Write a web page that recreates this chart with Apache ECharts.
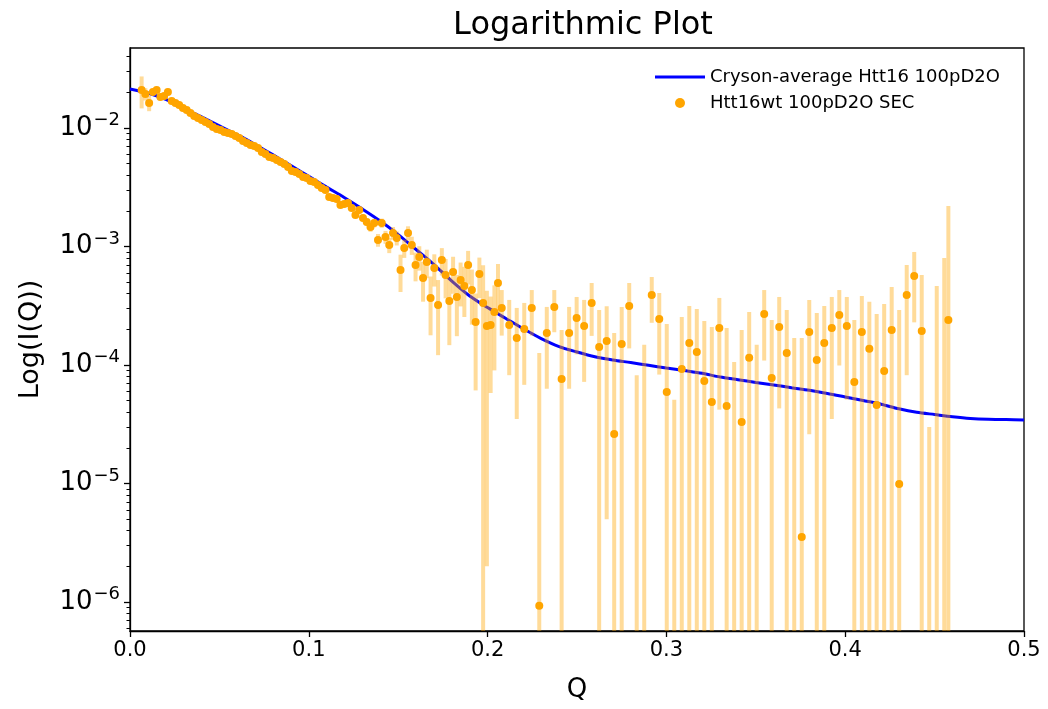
<!DOCTYPE html>
<html>
<head>
<meta charset="utf-8">
<script src="https://cdn.jsdelivr.net/npm/echarts@6/dist/echarts.min.js"></script>
<style>html,body{margin:0;padding:0;background:#fff;}#c{width:1048px;height:709px;}</style>
</head>
<body>
<div id="c"></div>
<script>
// ---- Model curve (Cryson-average) ----
const modelQ = [0.00,0.01,0.02,0.03,0.04,0.05,0.06,0.07,0.08,0.09,0.10,0.11,0.12,0.13,0.14,0.15,0.16,0.17,0.18,0.19,0.20,0.21,0.22,0.23,0.24,0.25,0.26,0.27,0.28,0.29,0.30,0.31,0.32,0.33,0.34,0.35,0.36,0.37,0.38,0.39,0.40,0.41,0.42,0.43,0.44,0.45,0.46,0.47,0.48,0.49,0.50];
const modelI = [0.02134,0.01973,0.01740,0.01470,0.01240,0.01043,0.00878,0.00726,0.00593,0.00482,0.00391,0.00317,0.00258,0.00207,0.001640,0.001260,0.000943,0.000704,0.000510,0.000382,0.000305,0.000248,0.000202,0.000167,0.000143,0.0001288,0.0001175,0.0001102,0.0001048,0.0000994,0.0000943,0.0000897,0.0000851,0.0000792,0.0000752,0.0000713,0.0000678,0.0000643,0.0000611,0.0000575,0.0000537,0.0000501,0.0000467,0.0000427,0.0000399,0.0000382,0.0000366,0.0000354,0.0000348,0.0000346,0.0000343];

// ---- Measured data (Htt16wt 100pD2O SEC) ----
const qDense = [0.0065,0.0086,0.0107,0.0128,0.0149,0.0170,0.0191,0.0212,0.0233,0.0254,0.0275,0.0296,0.0317,0.0338,0.0359,0.0380,0.0401,0.0422,0.0443,0.0464,0.0485,0.0506,0.0527,0.0548,0.0569,0.0590,0.0611,0.0632,0.0653,0.0674,0.0695,0.0716,0.0737,0.0758,0.0779,0.0800,0.0821,0.0842,0.0863,0.0884,0.0905,0.0926,0.0947,0.0968,0.0988,0.1009,0.1030,0.1051,0.1072,0.1093,0.1114,0.1135,0.1156,0.1177,0.1198,0.1219,0.1240,0.1261,0.1282,0.1303,0.1324,0.1345,0.1366,0.1387,0.1408,0.1429,0.1450,0.1471,0.1492,0.1513,0.1534,0.1555,0.1576,0.1597,0.1618,0.1639,0.1660,0.1681,0.1702,0.1723,0.1744,0.1765,0.1786,0.1807,0.1828,0.1849,0.1870,0.1891,0.1912,0.1933,0.1954,0.1975,0.1996,0.2017,0.2038,0.2058];
const iDense = [0.02093,0.01936,0.01626,0.02013,0.02093,0.01827,0.01862,0.02013,0.01690,0.01626,0.01563,0.01475,0.01419,0.01339,0.01263,0.01214,0.01168,0.01124,0.01081,0.01020,0.009808,0.009619,0.009251,0.009073,0.008897,0.008560,0.008233,0.007767,0.007470,0.007186,0.007047,0.006779,0.006272,0.006033,0.005691,0.005580,0.005370,0.005165,0.004968,0.004688,0.004337,0.004253,0.004090,0.003859,0.003785,0.003570,0.003501,0.003304,0.003117,0.002998,0.002617,0.002566,0.002517,0.002239,0.002284,0.002329,0.002113,0.001844,0.002032,0.001740,0.001610,0.001461,0.001579,0.001135,0.001579,0.001203,0.001029,0.001300,0.001180,0.000633,0.000971,0.001300,0.001029,0.000698,0.000815,0.000542,0.000740,0.000368,0.000659,0.000321,0.000769,0.000575,0.000347,0.000609,0.000375,0.000522,0.000464,0.000698,0.000429,0.000231,0.000586,0.000334,0.000213,0.000218,0.000280,0.000492];
const eDense = [0.0063,0.0023,0.0024,0.0012,0.0013,0.0011,0.0011,0.0012,0.0010,0.0010,0.0009,0.0004,0.0004,0.0004,0.0004,0.0003,0.0003,0.0003,0.0003,0.0003,0.0003,0.0003,0.0003,0.0002,0.0002,0.0002,0.0002,0.0002,0.0002,0.0002,0.0002,0.0002,0.00012,0.00012,0.00012,0.00012,0.00012,0.00012,0.00012,0.00012,0.00012,0.00007,0.00007,0.00007,0.00007,0.00007,0.00008,0.00008,0.00008,0.00008,0.00008,0.0001,0.0001,0.0001,0.0001,0.0001,0.00011,0.00011,0.00011,0.00011,0.00011,0.00013,0.00013,0.00014,0.00014,0.00015,0.00015,0.00016,0.00016,0.00022,0.00017,0.00018,0.00018,0.00019,0.00019,0.0002,0.0002,0.00019,0.0002,0.0002,0.0002,0.00021,0.0002,0.00021,0.0002,0.00021,0.00021,0.00022,0.00021,0.00017,0.00022,0.00036,0.000211,0.00016,0.00019,0.00022];

const qTail = [0.2079,0.2121,0.2163,0.2205,0.2247,0.2289,0.2331,0.2373,0.2414,0.2456,0.2498,0.2540,0.2582,0.2624,0.2666,0.2708,0.2750,0.2792,0.2834,0.2876,0.2918,0.2960,0.3002,0.3044,0.3086,0.3128,0.3170,0.3212,0.3254,0.3296,0.3337,0.3379,0.3421,0.3463,0.3505,0.3547,0.3589,0.3631,0.3673,0.3715,0.3757,0.3799,0.3841,0.3883,0.3925,0.3967,0.4009,0.4051,0.4093,0.4135,0.4176,0.4218,0.4260,0.4302,0.4344,0.4386,0.4428,0.4470,0.4512,0.4554,0.4577];
const iTail = [3.03e-4,2.18e-4,1.69e-4,2.01e-4,3.03e-4,9.3e-7,1.86e-4,3.09e-4,7.62e-5,1.86e-4,2.49e-4,2.13e-4,3.34e-4,1.42e-4,1.59e-4,2.62e-5,1.50e-4,3.15e-4,-6.0e-5,-1.0e-5,3.90e-4,2.44e-4,5.92e-5,-1.1e-4,9.25e-5,1.53e-4,1.29e-4,7.33e-5,4.87e-5,2.05e-4,4.51e-5,-6.0e-5,3.30e-5,1.15e-4,-2.0e-5,2.69e-4,7.77e-5,2.09e-4,1.26e-4,-1.0e-5,3.54e-6,1.90e-4,1.10e-4,1.53e-4,2.05e-4,2.64e-4,2.13e-4,7.19e-5,1.90e-4,1.37e-4,4.60e-5,8.90e-5,1.97e-4,9.9e-6,3.90e-4,5.64e-4,1.94e-4,-3.9e-4,-5.0e-5,-1.0e-4,2.40e-4];
const eTail = [1.26e-4,1.36e-4,1.34e-4,1.33e-4,1.26e-4,1.25e-4,1.23e-4,1.20e-4,1.21e-4,1.23e-4,1.26e-4,1.41e-4,1.58e-4,1.49e-4,1.54e-4,1.60e-4,1.59e-4,1.77e-4,1.42e-4,1.58e-4,1.63e-4,1.61e-4,1.63e-4,1.61e-4,1.62e-4,1.62e-4,1.68e-4,1.62e-4,1.60e-4,1.63e-4,1.60e-4,1.66e-4,1.64e-4,1.65e-4,1.68e-4,1.60e-4,1.62e-4,1.66e-4,1.65e-4,1.79e-4,1.65e-4,1.64e-4,1.65e-4,1.62e-4,1.70e-4,1.65e-4,1.62e-4,1.68e-4,1.92e-4,2.04e-4,2.23e-4,2.38e-4,2.58e-4,2.81e-4,3.08e-4,3.35e-4,3.81e-4,4.2e-4,5.14e-4,9.0e-4,1.96e-3];

// ---- Axis ticks / labels ----
const xTicks = [0.0, 0.1, 0.2, 0.3, 0.4, 0.5];
const yMajorExp = [-6, -5, -4, -3, -2];
const yMinorMult = [2, 3, 4, 5, 6, 7, 8, 9];
const yMin = 5.69e-7, yMax = 0.04732;

const FONT = 'DejaVu Sans';
const L = Math.log10;
const yLo = L(yMin), yHi = L(yMax);
const minorVals = [];
for (let n = -7; n <= -2; n++) for (const m of yMinorMult) { const v = L(m * Math.pow(10, n)); if (v > yLo && v < yHi) minorVals.push(v); }

const qAll = qDense.concat(qTail), iAll = iDense.concat(iTail), eAll = eDense.concat(eTail);
const errData = qAll.map((q, i) => {
  const hi = iAll[i] + eAll[i], lo = iAll[i] - eAll[i];
  return [q, lo > 0 ? L(lo) : -99, L(hi)];
});
const dotData = [];
qAll.forEach((q, i) => { if (iAll[i] > 0) dotData.push([q, L(iAll[i])]); });
const lineData = modelQ.map((q, i) => [q, L(modelI[i])]);

const chart = echarts.init(document.getElementById('c'), null, {renderer: 'canvas'});
const LINE_NAME = 'Cryson-average Htt16 100pD2O', DOT_NAME = 'Htt16wt 100pD2O SEC';
chart.setOption({
  animation: false,
  backgroundColor: '#fff',
  textStyle: {fontFamily: FONT},
  title: {text: 'Logarithmic Plot', left: 578, textAlign: 'center', top: 5,
    textStyle: {fontFamily: FONT, fontSize: 32, fontWeight: 'normal', color: '#000'}},
  legend: {orient: 'vertical', left: 650, top: 63, itemWidth: 50, itemHeight: 10, itemGap: 8,
    textStyle: {fontFamily: FONT, fontSize: 18, color: '#000'},
    data: [{name: LINE_NAME, icon: 'path://M0,0L50,0L50,3L0,3Z'}, {name: DOT_NAME, icon: 'circle'}]},
  grid: {left: 130, right: 24, top: 48, bottom: 78, show: true, borderColor: '#000', borderWidth: 1.3, backgroundColor: 'transparent'},
  xAxis: {type: 'value', min: 0, max: 0.5, interval: 0.1,
    name: 'Q', nameLocation: 'middle', nameGap: 46,
    nameTextStyle: {fontFamily: FONT, fontSize: 26, color: '#000'},
    axisLine: {lineStyle: {color: '#000', width: 1.3}},
    axisTick: {length: 6, lineStyle: {color: '#000', width: 1.3}},
    axisLabel: {fontFamily: FONT, fontSize: 21, color: '#000', margin: 9, customValues: xTicks, formatter: v => v.toFixed(1)},
    splitLine: {show: false}},
  yAxis: [
    {type: 'value', min: yLo, max: yHi,
      name: 'Log(I(Q))', nameLocation: 'middle', nameGap: 86, nameRotate: 90,
      nameTextStyle: {fontFamily: FONT, fontSize: 27, color: '#000'},
      axisLine: {show: true, lineStyle: {color: '#000', width: 1.3}},
      axisTick: {show: true, length: 6, customValues: yMajorExp, lineStyle: {color: '#000', width: 1.3}},
      axisLabel: {customValues: yMajorExp, margin: 10, color: '#000',
        formatter: v => '{b|10}{e|\u2212' + Math.abs(Math.round(v)) + '}',
        rich: {b: {fontFamily: FONT, fontSize: 26, color: '#000'},
               e: {fontFamily: FONT, fontSize: 18, color: '#000', verticalAlign: 'bottom', padding: [0, 0, 15, 1]}}},
      splitLine: {show: false}},
    {type: 'value', min: yLo, max: yHi, position: 'left',
      axisLine: {show: false},
      axisTick: {show: true, length: 3.5, customValues: minorVals, lineStyle: {color: '#000', width: 1}},
      axisLabel: {show: false}, splitLine: {show: false}}
  ],
  series: [
    {name: LINE_NAME, type: 'line', data: lineData, showSymbol: false, symbol: 'none', smooth: 0.3,
      lineStyle: {color: '#0000ff', width: 3}, itemStyle: {color: '#0000ff'}, z: 2},
    {name: 'errorbars', type: 'custom', data: errData, encode: {x: 0, y: [1, 2]}, z: 3, silent: true,
      renderItem: (params, api) => {
        const q = api.value(0);
        const p1 = api.coord([q, api.value(2)]);
        const p2 = api.coord([q, api.value(1)]);
        const cs = params.coordSys;
        const top = cs.y, bot = cs.y + cs.height;
        const y1 = Math.max(top, Math.min(bot, p1[1]));
        const y2 = Math.max(top, Math.min(bot, p2[1]));
        return {type: 'line', shape: {x1: p1[0], y1: y1, x2: p1[0], y2: y2},
          style: {stroke: 'rgba(255,165,0,0.4)', lineWidth: 4, lineCap: 'butt'}};
      }},
    {name: DOT_NAME, type: 'scatter', data: dotData, symbolSize: 8,
      itemStyle: {color: '#ffa500', opacity: 1}, z: 4}
  ]
});
</script>
</body>
</html>
